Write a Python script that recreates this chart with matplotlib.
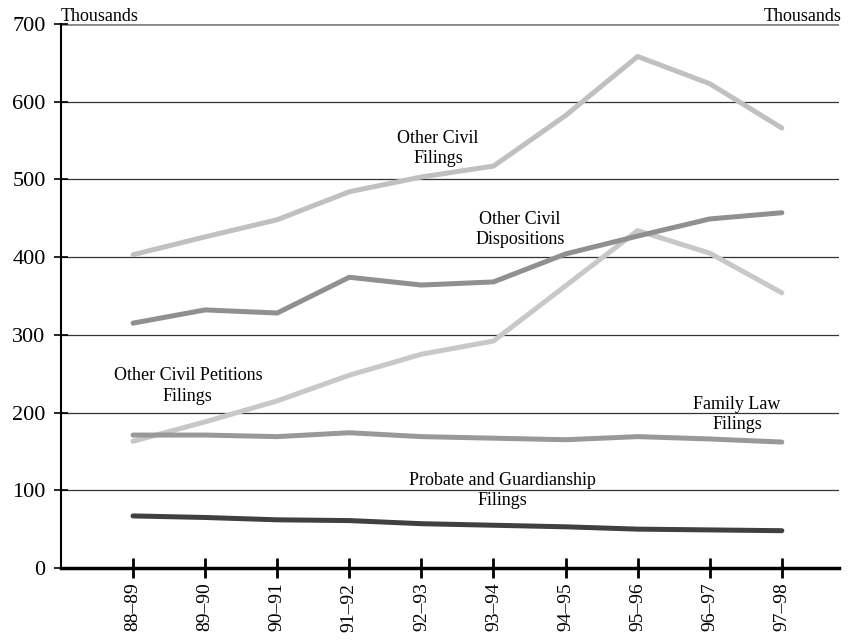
import matplotlib.pyplot as plt
import numpy as np

# fiscal years
years = ['88\u201389', '89\u201390', '90\u201391', '91\u201392', '92\u201393',
         '93\u201394', '94\u201395', '95\u201396', '96\u201397', '97\u201398']

# thousands
other_civil_filings = [403, 426, 448, 484, 503, 517, 582, 658, 623, 566]
other_civil_dispositions = [315, 332, 328, 374, 364, 368, 404, 427, 449, 457]
other_civil_petitions = [163, 188, 215, 248, 275, 292, 363, 434, 405, 354]
family_law_filings = [171, 171, 169, 174, 169, 167, 165, 169, 166, 162]
probate_filings = [67, 65, 62, 61, 57, 55, 53, 50, 49, 48]

plt.rcParams['font.family'] = ['Liberation Serif', 'DejaVu Serif']

fig = plt.figure(figsize=(8.49, 6.44), dpi=100)
ax = fig.add_axes([0.0718, 0.118, 0.917, 0.845])

x = np.arange(1, len(years) + 1)

# gridlines
for v in range(100, 700, 100):
    ax.axhline(v, color='#333333', lw=0.9, zorder=1)
ax.axhline(700, color='#888888', lw=2, zorder=1)

ax.plot(x, other_civil_filings, color='#c0c0c0', lw=3.6, solid_capstyle='round', zorder=3)
ax.plot(x, other_civil_petitions, color='#c8c8c8', lw=3.6, solid_capstyle='round', zorder=3)
ax.plot(x, other_civil_dispositions, color='#909090', lw=3.6, solid_capstyle='round', zorder=3)
ax.plot(x, family_law_filings, color='#999999', lw=3.6, solid_capstyle='round', zorder=3)
ax.plot(x, probate_filings, color='#404040', lw=3.6, solid_capstyle='round', zorder=3)

fs = 13
ax.text(5.23, 540, 'Other Civil\nFilings', ha='center', va='center', fontsize=fs, linespacing=1.25)
ax.text(6.37, 435, 'Other Civil\nDispositions', ha='center', va='center', fontsize=fs, linespacing=1.25)
ax.text(1.76, 234, 'Other Civil Petitions\nFilings', ha='center', va='center', fontsize=fs, linespacing=1.25)
ax.text(9.38, 197, 'Family Law\nFilings', ha='center', va='center', fontsize=fs, linespacing=1.25)
ax.text(6.13, 100, 'Probate and Guardianship\nFilings', ha='center', va='center', fontsize=fs, linespacing=1.25)

ax.text(0, 698, 'Thousands', ha='left', va='bottom', fontsize=fs)
ax.text(1.003, 698, 'Thousands', ha='right', va='bottom', fontsize=fs,
        transform=ax.get_yaxis_transform())

ax.set_xlim(0, 10.8)
ax.set_ylim(0, 700)
ax.set_xticks(x)
ax.set_xticklabels(years, rotation=90, fontsize=14)
ax.set_yticks(range(0, 800, 100))
ax.tick_params(axis='y', labelsize=16, direction='inout', length=10, width=1.2, pad=6)
ax.tick_params(axis='x', direction='inout', length=14, width=2)

for s in ['top', 'right']:
    ax.spines[s].set_visible(False)
ax.spines['left'].set_linewidth(1.5)
ax.spines['bottom'].set_linewidth(2.5)

fig.savefig('out.png', dpi=100)
